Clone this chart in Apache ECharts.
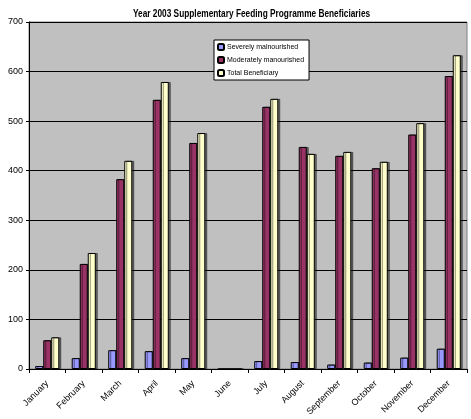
<!DOCTYPE html>
<html>
<head>
<meta charset="utf-8">
<script src="https://cdn.jsdelivr.net/npm/echarts@6/dist/echarts.min.js"></script>
<style>
  html, body { margin: 0; padding: 0; background: #fff; }
  #chart { width: 471px; height: 419px; }
</style>
</head>
<body>
<div id="chart"></div>
<script>
// months on the x axis
var months = ['January', 'February', 'March', 'April', 'May', 'June',
              'July', 'August', 'September', 'October', 'November', 'December'];
// values
var severe   = [6, 22, 38, 36, 22, 0, 16, 14, 9, 13, 23, 41];
var moderate = [58, 212, 383, 543, 456, 0, 529, 448, 430, 405, 473, 591];
var total    = [64, 234, 420, 579, 476, 0, 545, 434, 438, 418, 496, 633];
var yTicks   = [0, 100, 200, 300, 400, 500, 600, 700];

var fontFam = '"Liberation Sans", Arial, sans-serif';

function barSeries(name, data, color) {
    return {
        name: name,
        type: 'bar',
        data: data,
        barGap: '0%',
        barCategoryGap: '34%',
        itemStyle: {
            color: color,
            borderColor: '#000',
            borderWidth: 1,
            shadowColor: 'rgba(0,0,0,0.45)',
            shadowOffsetX: 2,
            shadowOffsetY: 0,
            shadowBlur: 0
        }
    };
}

var chart = echarts.init(document.getElementById('chart'));
chart.setOption({
    animation: false,
    // title drawn as graphic text so it can be squeezed like the narrow original font
    graphic: [{
        type: 'text',
        x: 133,
        y: 9,
        scaleX: 0.83,
        style: {
            text: 'Year 2003 Supplementary Feeding Programme Beneficiaries',
            font: 'bold 10px "Liberation Sans", Arial, sans-serif',
            fill: '#000'
        }
    }],
    legend: {
        orient: 'vertical',
        left: 214,
        top: 40,
        padding: [3, 5, 3, 3],
        itemWidth: 6,
        itemHeight: 6,
        itemGap: 5,
        backgroundColor: '#fff',
        borderColor: '#000',
        borderWidth: 1,
        textStyle: { fontFamily: fontFam, fontSize: 7, color: '#000', padding: [0, 0, 0, -2] },
        data: ['Severely malnourished', 'Moderately manourished', 'Total Beneficiary']
    },
    grid: { left: 29, right: 4, top: 22, bottom: 50, show: true, backgroundColor: '#c0c0c0', borderColor: '#808080', borderWidth: 1 },
    xAxis: {
        type: 'category',
        data: months,
        axisLine: { lineStyle: { color: '#000', width: 1 } },
        axisTick: { show: true, alignWithLabel: false, length: 4, lineStyle: { color: '#000' } },
        axisLabel: {
            rotate: 45,
            interval: 0,
            margin: 13,
            fontFamily: fontFam,
            fontSize: 9,
            color: '#000'
        }
    },
    yAxis: {
        type: 'value',
        min: yTicks[0],
        max: yTicks[yTicks.length - 1],
        interval: 100,
        axisLine: { show: true, lineStyle: { color: '#000', width: 1 } },
        axisTick: { show: true, length: 3, lineStyle: { color: '#000' } },
        axisLabel: { fontFamily: fontFam, fontSize: 9, color: '#000', margin: 6 },
        splitLine: { show: true, lineStyle: { color: '#000', width: 1 } }
    },
    series: [
        barSeries('Severely malnourished', severe, '#9999ff'),
        barSeries('Moderately manourished', moderate, '#993366'),
        barSeries('Total Beneficiary', total, '#ffffcc')
    ]
});
</script>
</body>
</html>
